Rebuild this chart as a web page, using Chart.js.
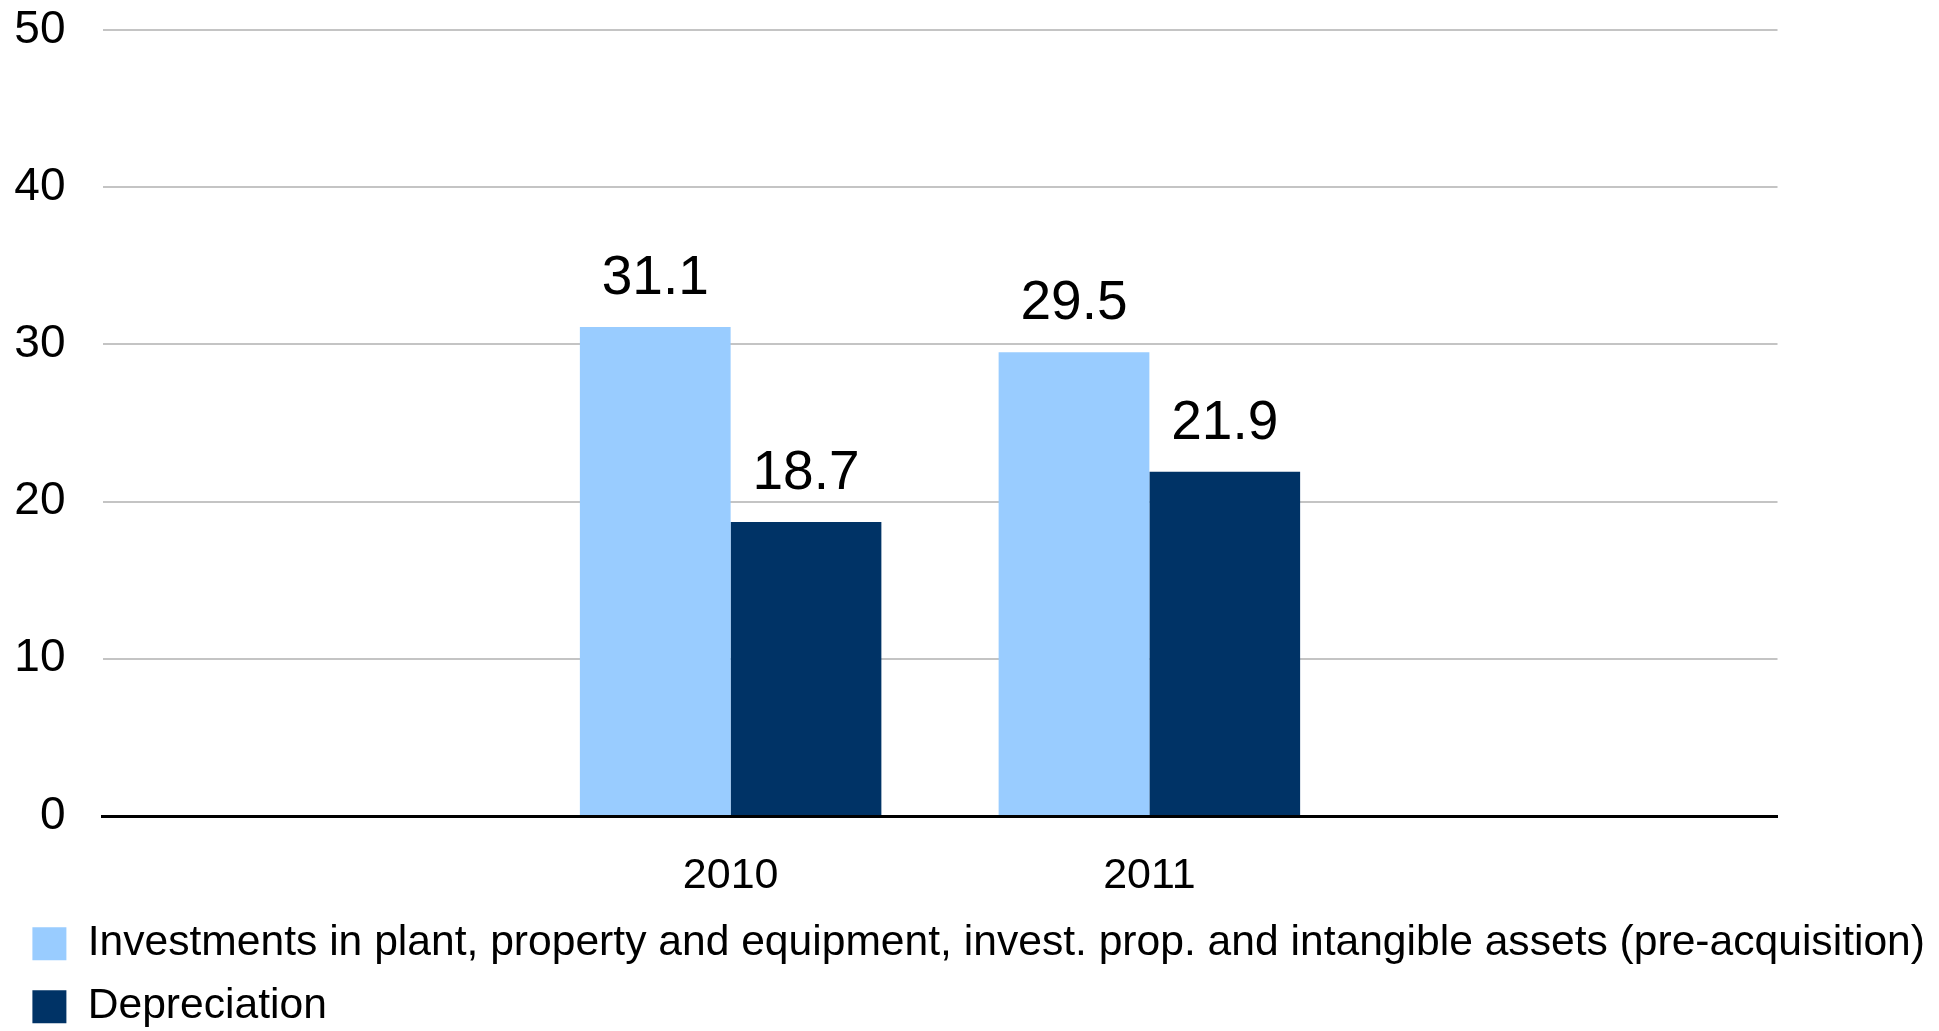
<!DOCTYPE html>
<html>
<head>
<meta charset="utf-8">
<script src="https://cdn.jsdelivr.net/npm/chart.js@4/dist/chart.umd.min.js"></script>
<style>
  html, body { margin: 0; padding: 0; background: #fff; }
  #wrap { width: 1939px; height: 1031px; }
</style>
</head>
<body>
<div id="wrap"><canvas id="chart" width="1939" height="1031"></canvas></div>
<script>
// Chart values (empty categories at both ends keep the groups centred like the original)
const categories = ["", "2010", "2011", ""];
const investments = [null, 31.1, 29.5, null];
const depreciation = [null, 18.7, 21.9, null];
const seriesNames = [
  "Investments in plant, property and equipment, invest. prop. and intangible assets (pre-acquisition)",
  "Depreciation",
];
const yTicks = { min: 0, max: 50, step: 10 };

const FONT = "'Liberation Sans', Arial, Helvetica, sans-serif";

// Draws the value above each bar (no datalabels plugin offline)
const valueLabels = {
  id: "valueLabels",
  afterDatasetsDraw(chart) {
    const ctx = chart.ctx;
    ctx.save();
    ctx.font = "55px " + FONT;
    ctx.fillStyle = "#000";
    ctx.textAlign = "center";
    ctx.textBaseline = "alphabetic";
    chart.data.datasets.forEach((ds, i) => {
      chart.getDatasetMeta(i).data.forEach((bar, j) => {
        const v = ds.data[j];
        if (v === null || v === undefined) return;
        ctx.fillText(v.toFixed(1), bar.x, bar.y - 33);
      });
    });
    ctx.restore();
  },
};

new Chart(document.getElementById("chart"), {
  type: "bar",
  data: {
    labels: categories,
    datasets: [
      {
        label: seriesNames[0],
        data: investments,
        backgroundColor: "#99ccff",
        borderWidth: 0,
        barPercentage: 1,
        categoryPercentage: 0.72,
      },
      {
        label: seriesNames[1],
        data: depreciation,
        backgroundColor: "#003366",
        borderWidth: 0,
        barPercentage: 1,
        categoryPercentage: 0.72,
      },
    ],
  },
  plugins: [valueLabels],
  options: {
    responsive: false,
    animation: false,
    events: [],
    layout: {
      padding: { top: 30, left: 12, right: 0, bottom: -7 },
    },
    scales: {
      x: {
        z: 1,
        grid: { display: false },
        border: { display: true, color: "#000", width: 3 },
        ticks: {
          color: "#000",
          padding: 26,
          font: { family: FONT, size: 43 },
        },
        afterFit(scale) {
          scale.height = 86;
        },
      },
      y: {
        min: yTicks.min,
        max: yTicks.max,
        border: { display: false },
        grid: {
          drawTicks: true,
          tickLength: 37,
          tickColor: "rgba(0,0,0,0)",
          lineWidth: 2,
          color: (c) => (c.tick && c.tick.value === 0 ? "#000" : "#c4c4c4"),
        },
        ticks: {
          stepSize: yTicks.step,
          color: "#000",
          padding: 0,
          font: { family: FONT, size: 46 },
        },
        afterFit(scale) {
          scale.width = 90.5;
        },
      },
      // empty right-hand axis: only keeps the plot clear of the right edge
      side: {
        type: "linear",
        position: "right",
        grid: { display: false },
        border: { display: false },
        ticks: { display: false },
        afterFit(scale) {
          scale.width = 161.5;
        },
      },
    },
    plugins: {
      legend: {
        position: "bottom",
        align: "start",
        labels: {
          color: "#000",
          boxWidth: 34,
          boxHeight: 33,
          padding: 20.4,
          font: { family: FONT, size: 42.6 },
        },
      },
      tooltip: { enabled: false },
    },
  },
});
</script>
</body>
</html>
